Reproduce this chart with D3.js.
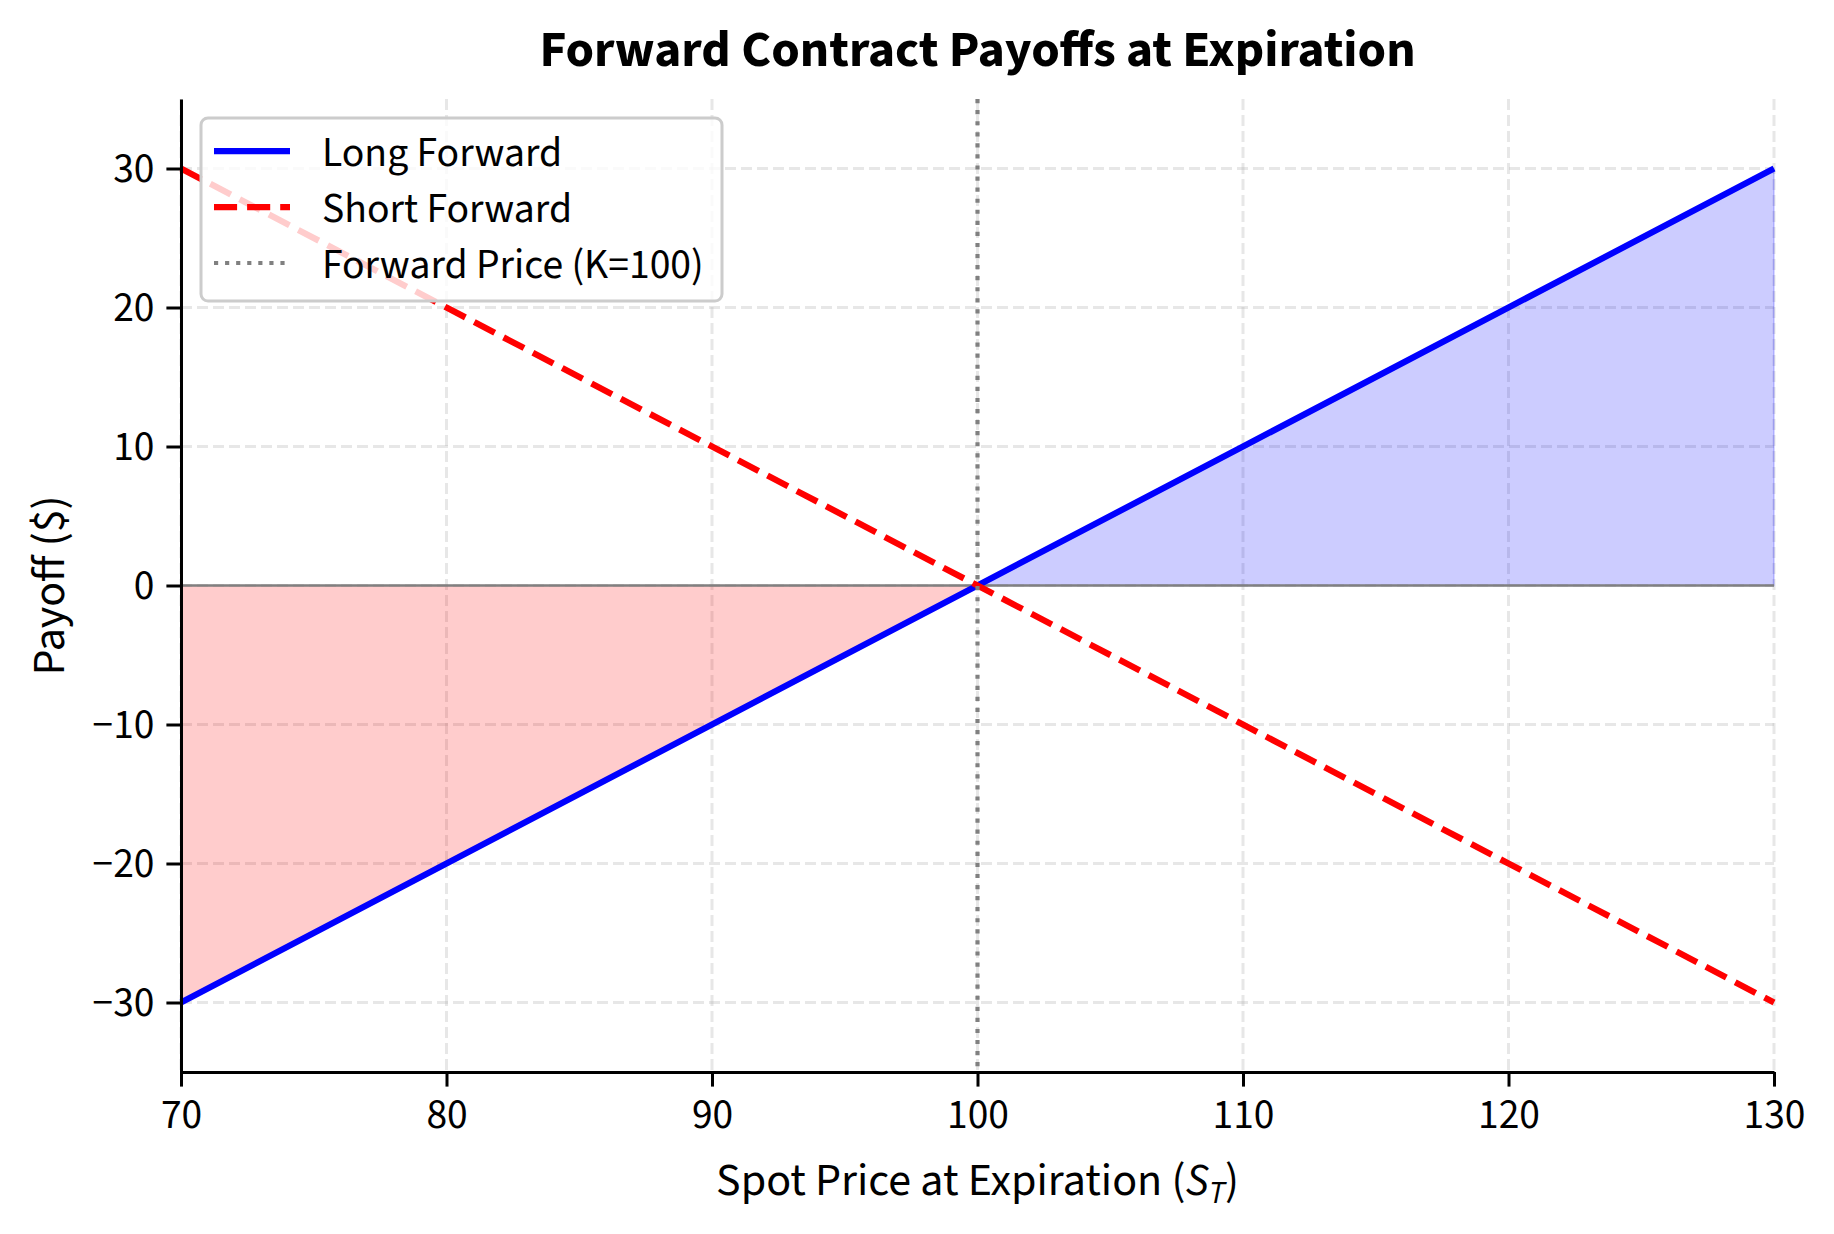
<!DOCTYPE html>
<html>
<head>
<meta charset="utf-8">
<script src="https://cdn.jsdelivr.net/npm/d3@7"></script>
<style>
  html, body { margin: 0; padding: 0; background: #fff; }
  svg { display: block; }
  text { font-family: "Source Sans 3", "Source Sans Pro", Lato, "Noto Sans", sans-serif; fill: #000; }
</style>
</head>
<body>
<svg id="chart" width="1834" height="1234"></svg>
<script>
// ---- data ----
const spotPrices = [70, 80, 90, 100, 110, 120, 130];
const longPayoff = [-30, -20, -10, 0, 10, 20, 30];
const shortPayoff = [30, 20, 10, 0, -10, -20, -30];
const forwardPrice = 100;
const xTicks = [70, 80, 90, 100, 110, 120, 130];
const yTicks = [-30, -20, -10, 0, 10, 20, 30];
const xDomain = [70, 130];
const yDomain = [-35, 35];
const titleText = "Forward Contract Payoffs at Expiration";
const yLabelText = "Payoff ($)";
const legendLabels = ["Long Forward", "Short Forward", "Forward Price (K=100)"];

// ---- layout ----
const W = 1834, H = 1234;
const m = { left: 181, right: W - 1774, top: 99, bottom: H - 1072 };
const svg = d3.select("#chart");
const x = d3.scaleLinear().domain(xDomain).range([m.left, W - m.right]);
const y = d3.scaleLinear().domain(yDomain).range([H - m.bottom, m.top]);

const longPts = spotPrices.map((s, i) => ({ s, v: longPayoff[i] }));
const shortPts = spotPrices.map((s, i) => ({ s, v: shortPayoff[i] }));

// grid
const grid = svg.append("g");
grid.selectAll("line.gx").data(xTicks).join("line")
  .attr("x1", d => x(d)).attr("x2", d => x(d))
  .attr("y1", m.top).attr("y2", H - m.bottom)
  .attr("stroke", "#b0b0b0").attr("stroke-opacity", 0.3)
  .attr("stroke-width", 3).attr("stroke-dasharray", "11,5");
grid.selectAll("line.gy").data(yTicks).join("line")
  .attr("x1", m.left).attr("x2", W - m.right)
  .attr("y1", d => y(d)).attr("y2", d => y(d))
  .attr("stroke", "#b0b0b0").attr("stroke-opacity", 0.3)
  .attr("stroke-width", 3).attr("stroke-dasharray", "11,5");

// fills
const area = d3.area().x(d => x(d.s)).y0(y(0)).y1(d => y(d.v));
svg.append("path").datum(longPts.filter(d => d.s <= forwardPrice))
  .attr("d", area).attr("fill", "red").attr("fill-opacity", 0.2)
  .attr("stroke", "red").attr("stroke-opacity", 0.2).attr("stroke-width", 1.5);
svg.append("path").datum(longPts.filter(d => d.s >= forwardPrice))
  .attr("d", area).attr("fill", "blue").attr("fill-opacity", 0.2)
  .attr("stroke", "blue").attr("stroke-opacity", 0.2).attr("stroke-width", 1.5);

// zero line
svg.append("line")
  .attr("x1", m.left).attr("x2", W - m.right)
  .attr("y1", y(0)).attr("y2", y(0))
  .attr("stroke", "#808080").attr("stroke-width", 2.6);

// lines
const line = d3.line().x(d => x(d.s)).y(d => y(d.v));
svg.append("path").datum(longPts).attr("d", line)
  .attr("fill", "none").attr("stroke", "blue").attr("stroke-width", 6.25);
svg.append("path").datum(shortPts).attr("d", line)
  .attr("fill", "none").attr("stroke", "red").attr("stroke-width", 6.25)
  .attr("stroke-dasharray", "23.1,10");

// forward price vertical
svg.append("line")
  .attr("x1", x(forwardPrice)).attr("x2", x(forwardPrice))
  .attr("y1", m.top).attr("y2", H - m.bottom)
  .attr("stroke", "#808080").attr("stroke-width", 4.17)
  .attr("stroke-dasharray", "4.17,6.9");

// axes
const xAxis = svg.append("g").attr("transform", `translate(0,${H - m.bottom})`)
  .call(d3.axisBottom(x).tickValues(xTicks).tickFormat(d3.format("d")).tickSizeInner(14.6).tickSizeOuter(0).tickPadding(12));
const yAxis = svg.append("g").attr("transform", `translate(${m.left},0)`)
  .call(d3.axisLeft(y).tickValues(yTicks).tickFormat(d => d < 0 ? "\u2212" + Math.abs(d) : d).tickSizeInner(14.6).tickSizeOuter(0).tickPadding(12));
[xAxis, yAxis].forEach(g => {
  g.attr("font-family", null);
  g.select(".domain").attr("stroke", "#000").attr("stroke-width", 3);
  g.selectAll(".tick line").attr("stroke", "#000").attr("stroke-width", 3);
  g.selectAll(".tick text").attr("font-size", 41.5).attr("fill", "#000");
});

// title
svg.append("text").attr("x", (m.left + W - m.right) / 2).attr("y", 66)
  .attr("text-anchor", "middle").attr("font-size", 51.5).attr("font-weight", "bold")
  .text(titleText);

// x label with subscript
const xl = svg.append("text").attr("x", (m.left + W - m.right) / 2).attr("y", 1195)
  .attr("text-anchor", "middle").attr("font-size", 46);
xl.append("tspan").text("Spot Price at Expiration (");
xl.append("tspan").attr("font-style", "italic").text("S");
xl.append("tspan").attr("font-style", "italic").attr("font-size", 32).attr("dy", 8).text("T");
xl.append("tspan").attr("dy", -8).text(")");

// y label
svg.append("text").attr("transform", `translate(64,${(m.top + H - m.bottom) / 2}) rotate(-90)`)
  .attr("text-anchor", "middle").attr("font-size", 46).text(yLabelText);

// legend
const lg = svg.append("g");
lg.append("rect").attr("x", 201).attr("y", 118).attr("width", 521).attr("height", 183)
  .attr("rx", 7).attr("fill", "#fff").attr("fill-opacity", 0.8)
  .attr("stroke", "#cccccc").attr("stroke-width", 3);
const rowsY = [151, 207, 263];
const styles = [
  { stroke: "blue", dash: null, w: 6.25 },
  { stroke: "red", dash: "23.1,10", w: 6.25 },
  { stroke: "#808080", dash: "4.17,6.9", w: 4.17 }
];
legendLabels.forEach((lab, i) => {
  const l = lg.append("line").attr("x1", 214).attr("x2", 290)
    .attr("y1", rowsY[i]).attr("y2", rowsY[i])
    .attr("stroke", styles[i].stroke).attr("stroke-width", styles[i].w);
  if (styles[i].dash) l.attr("stroke-dasharray", styles[i].dash);
  lg.append("text").attr("x", 322).attr("y", rowsY[i]).attr("dy", "0.35em")
    .attr("font-size", 41.7).text(lab);
});
</script>
</body>
</html>
